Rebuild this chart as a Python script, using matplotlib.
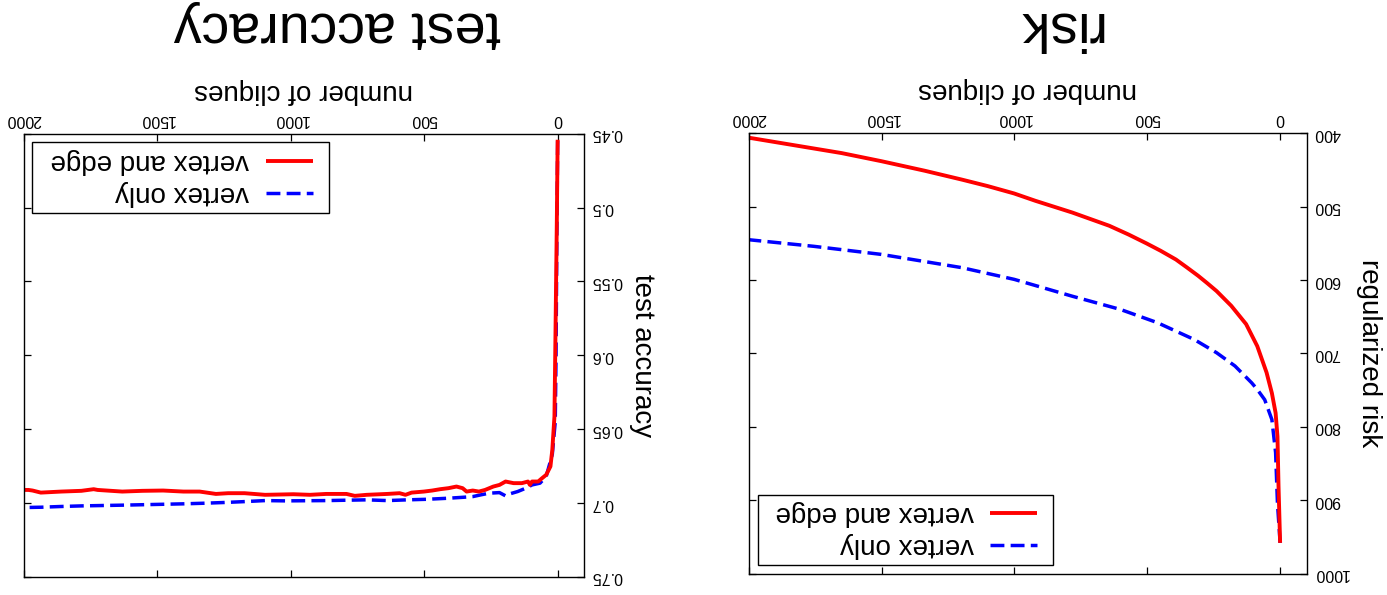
import matplotlib
matplotlib.use('Agg')
import matplotlib.pyplot as plt
from matplotlib.lines import Line2D
from matplotlib.patches import Rectangle

plt.rcParams['font.family'] = ['Liberation Sans', 'DejaVu Sans']

# ---------------- data ----------------
x_ticks = [0, 500, 1000, 1500, 2000]
x_tick_labels = ['0', '500', '1000', '1500', '2000']

risk_ticks = [400, 500, 600, 700, 800, 900, 1000]
risk_tick_labels = ['400', '500', '600', '700', '800', '900', '1000']
acc_ticks = [0.45, 0.5, 0.55, 0.6, 0.65, 0.7, 0.75]
acc_tick_labels = ['0.45', '0.5', '0.55', '0.6', '0.65', '0.7', '0.75']

series_labels = ['vertex and edge', 'vertex only']

# regularized risk
risk_edge_x = [0, 6, 10, 17, 31, 51, 86, 128, 184, 239, 275, 309, 350, 392,
               450, 503, 570, 643, 782, 921, 1001, 1100, 1199, 1338, 1501, 1650,
               1800, 2000]
risk_edge = [958, 881, 813, 781, 754, 726, 690, 660, 635, 615, 604, 594, 583,
             572, 560, 550, 538, 526, 508, 492, 482, 472, 463, 451, 438, 427,
             418, 406]
risk_vertex_x = [0, 10, 17, 31, 58, 86, 107, 170, 239, 323, 462, 601, 782,
                 1001, 1199, 1501, 1755, 2000]
risk_vertex = [958, 904, 835, 790, 763, 749, 740, 717, 699, 681, 658, 640, 622,
               599, 583, 565, 554, 545]

# test accuracy
acc_edge_x = [0, 3, 9, 12, 20, 27, 43, 58, 73, 96, 104, 111, 134, 165, 195, 218,
              241, 272, 295, 318, 341, 356, 379, 409, 440, 470, 501, 547, 570,
              592, 638, 715, 760, 791, 867, 928, 990, 1096, 1173, 1234, 1280,
              1341, 1402, 1478, 1555, 1631, 1723, 1738, 1784, 1860, 1936, 1967,
              1982, 2000]
acc_edge = [0.4541, 0.5082, 0.5985, 0.6414, 0.6640, 0.6752, 0.6809, 0.6831,
            0.6854, 0.6854, 0.6877, 0.6854, 0.6865, 0.6865, 0.6854, 0.6877,
            0.6888, 0.6911, 0.6922, 0.6915, 0.6922, 0.6899, 0.6888, 0.6899,
            0.6906, 0.6915, 0.6922, 0.6929, 0.6944, 0.6933, 0.6938, 0.6944,
            0.6951, 0.6938, 0.6938, 0.6944, 0.6940, 0.6944, 0.6933, 0.6933,
            0.6938, 0.6922, 0.6922, 0.6915, 0.6917, 0.6922, 0.6911, 0.6906,
            0.6917, 0.6922, 0.6929, 0.6915, 0.6911, 0.6911]
acc_vertex_x = [0, 3, 6, 9, 20, 43, 66, 96, 119, 150, 180, 195, 218, 257, 287,
                318, 348, 409, 486, 562, 638, 715, 867, 1020, 1096, 1173, 1249,
                1326, 1402, 1478, 1631, 1784, 1860, 1936, 2000]
acc_vertex = [0.455, 0.52, 0.60, 0.645, 0.667, 0.6820, 0.6865, 0.6877, 0.6899,
              0.6922, 0.6938, 0.6951, 0.6929, 0.6933, 0.6944, 0.6956, 0.6960,
              0.6967, 0.6974, 0.6978, 0.6983, 0.6978, 0.6983, 0.6985, 0.6983,
              0.6990, 0.6996, 0.7001, 0.7005, 0.7008, 0.7014, 0.7019, 0.7023,
              0.7028, 0.7030]

RED = '#ff0000'
BLUE = '#0000ff'
red_style = dict(color=RED, lw=2.8, solid_capstyle='butt',
                 solid_joinstyle='round')
blue_style = dict(color=BLUE, lw=2.5, linestyle=(0, (4, 1.8)))

# ---------------- figure ----------------
fig = plt.figure(figsize=(13.87, 5.95), dpi=100)
ax_r = fig.add_axes([0.5398, 0.0358, 0.4023, 0.7402])
ax_a = fig.add_axes([0.0171, 0.0303, 0.4042, 0.7450])


def style(ax, yticks, ylabels, ylim, ylabel):
    ax.set_xlim(2000, -100)
    ax.set_ylim(*ylim)
    ax.set_xticks(x_ticks)
    ax.set_xticklabels(x_tick_labels, rotation=180)
    ax.set_yticks(yticks)
    ax.set_yticklabels(ylabels, rotation=180, va='center')
    ax.xaxis.set_label_position('top')
    ax.yaxis.set_label_position('right')
    ax.tick_params(direction='in', length=5, width=0.9, top=True, bottom=True,
                   left=True, right=True, labeltop=True, labelbottom=False,
                   labelleft=False, labelright=True, labelsize=11.5, pad=5,
                   colors='black')
    for sp in ax.spines.values():
        sp.set_linewidth(1.0)
    ax.set_xlabel('number of cliques', fontsize=20, rotation=180, labelpad=10)
    ax.set_ylabel(ylabel, fontsize=20, rotation=270, labelpad=14, va='center')


def legend(ax, box, handle_x, rows_y, text_x):
    ax.add_patch(Rectangle((box[0], box[1]), box[2] - box[0], box[3] - box[1],
                           transform=ax.transAxes, facecolor='white',
                           edgecolor='black', lw=1.0, zorder=5))
    for y, lab, st in zip(rows_y, series_labels, [red_style, blue_style]):
        ax.add_line(Line2D(handle_x, [y, y], transform=ax.transAxes, zorder=6,
                           **st))
        ax.text(text_x, y, lab, transform=ax.transAxes, rotation=180,
                ha='right', va='center', fontsize=20, zorder=6)


# risk panel
ax_r.plot(risk_vertex_x, risk_vertex, **blue_style)
ax_r.plot(risk_edge_x, risk_edge, **red_style)
style(ax_r, risk_ticks, risk_tick_labels, (1000, 400), 'regularized risk')
legend(ax_r, (0.016, 0.0198, 0.5445, 0.1787), [0.433, 0.516],
       [0.1378, 0.0645], 0.4032)

# accuracy panel
ax_a.plot(acc_vertex_x, acc_vertex, **blue_style)
ax_a.plot(acc_edge_x, acc_edge, **red_style)
style(ax_a, acc_ticks, acc_tick_labels, (0.75, 0.45), 'test accuracy')
legend(ax_a, (0.0153, 0.8207, 0.5437, 0.9804), [0.4322, 0.5168],
       [0.9384, 0.8662], 0.402)

# panel captions
fig.text(1058 / 1387, 0.956, 'risk', rotation=180, ha='center', va='center',
         fontsize=40)
fig.text(337 / 1387, 0.956, 'test accuracy', rotation=180, ha='center',
         va='center', fontsize=40)

fig.savefig('out.png', dpi=100)
